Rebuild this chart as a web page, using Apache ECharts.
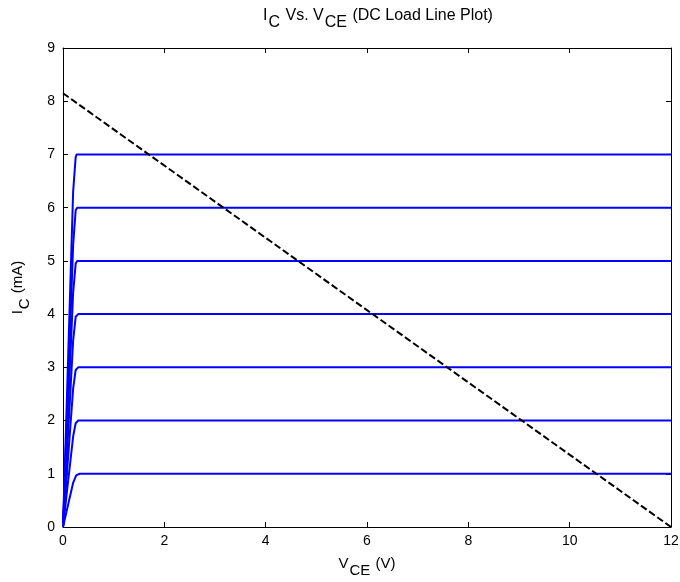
<!DOCTYPE html>
<html><head><meta charset="utf-8">
<script src="https://cdn.jsdelivr.net/npm/echarts@6/dist/echarts.min.js"></script>
<style>html,body{margin:0;padding:0;background:#fff}#c{width:680px;height:582px}</style>
</head><body><div id="c"></div>
<script>
const xTicks = [0, 2, 4, 6, 8, 10, 12];
const yTicks = [0, 1, 2, 3, 4, 5, 6, 7, 8, 9];
const curveNames = ['1 mA', '2 mA', '3 mA', '4 mA', '5 mA', '6 mA', '7 mA'];
const curve1 = [[0, 0], [0.2, 0.83], [0.26, 0.97], [0.33, 1], [12, 1]];
const curve2 = [[0, 0], [0.2, 1.7], [0.25, 1.95], [0.3, 2], [12, 2]];
const curve3 = [[0, 0], [0.2, 2.6], [0.25, 2.95], [0.3, 3], [12, 3]];
const curve4 = [[0, 0], [0.2, 3.5], [0.25, 3.95], [0.3, 4], [12, 4]];
const curve5 = [[0, 0], [0.2, 4.4], [0.25, 4.95], [0.28, 5], [12, 5]];
const curve6 = [[0, 0], [0.2, 5.3], [0.25, 5.95], [0.28, 6], [12, 6]];
const curve7 = [[0, 0], [0.2, 6.3], [0.25, 6.95], [0.27, 7], [12, 7]];
const loadLine = [[0, 8.15], [12, 0]];

const curves = [curve1, curve2, curve3, curve4, curve5, curve6, curve7];
const FONT = 'Liberation Sans, Arial, sans-serif';
const chart = echarts.init(document.getElementById('c'));
const axisCommon = {
  axisLine: {show: true, onZero: false, lineStyle: {color: '#000', width: 1}},
  axisTick: {show: true, inside: true, length: 5, lineStyle: {color: '#000'}},
  splitLine: {show: false}
};
function subStyle(fs) {
  return {
    fontSize: fs, fontFamily: FONT, fontWeight: 'normal', color: '#000', lineHeight: 24,
    rich: {
      nrm: {fontSize: fs, fontFamily: FONT, fontWeight: 'normal', color: '#000', verticalAlign: 'top', lineHeight: 24},
      sub: {fontSize: fs, fontFamily: FONT, fontWeight: 'normal', color: '#000', verticalAlign: 'top', padding: [7, 1, 0, 1], lineHeight: 24}
    }
  };
}
const series = curves.map((d, i) => ({
  name: curveNames[i], type: 'line', data: d, showSymbol: false, symbol: 'none',
  lineStyle: {color: '#0000ff', width: 2}, animation: false, xAxisIndex: 0, yAxisIndex: 0
}));
series.push({
  name: 'Load line', type: 'line', data: loadLine, showSymbol: false, symbol: 'none',
  lineStyle: {color: '#000', width: 2, type: [7, 3]}, animation: false, z: 5
});
chart.setOption({
  animation: false,
  backgroundColor: '#fff',
  textStyle: {fontFamily: FONT},
  title: {
    text: '{nrm|I}{sub|C}{nrm| Vs. V}{sub|CE}{nrm| (DC Load Line Plot)}',
    left: 373, top: 3, textAlign: 'center',
    textStyle: subStyle(16)
  },
  grid: {left: 63, right: 9, top: 48, bottom: 55, containLabel: false, outerBoundsMode: 'none'},
  xAxis: [
    Object.assign({type: 'value', min: 0, max: 12, interval: 2, position: 'bottom',
      name: '{nrm|V}{sub|CE}{nrm| (V)}', nameLocation: 'middle', nameGap: 29,
      nameTextStyle: subStyle(15),
      axisLabel: {color: '#000', fontSize: 14, fontFamily: FONT, margin: 7}}, axisCommon),
    Object.assign({type: 'value', min: 0, max: 12, interval: 2, position: 'top',
      axisLabel: {show: false}}, axisCommon)
  ],
  yAxis: [
    Object.assign({type: 'value', min: 0, max: 9, interval: 1, position: 'left',
      name: '{nrm|I}{sub|C}{nrm| (mA)}', nameLocation: 'middle', nameGap: 29, nameRotate: 90,
      nameTextStyle: subStyle(15),
      axisLabel: {color: '#000', fontSize: 14, fontFamily: FONT, margin: 8}}, axisCommon),
    Object.assign({type: 'value', min: 0, max: 9, interval: 1, position: 'right',
      axisLabel: {show: false}}, axisCommon)
  ],
  series: series
});
</script></body></html>
